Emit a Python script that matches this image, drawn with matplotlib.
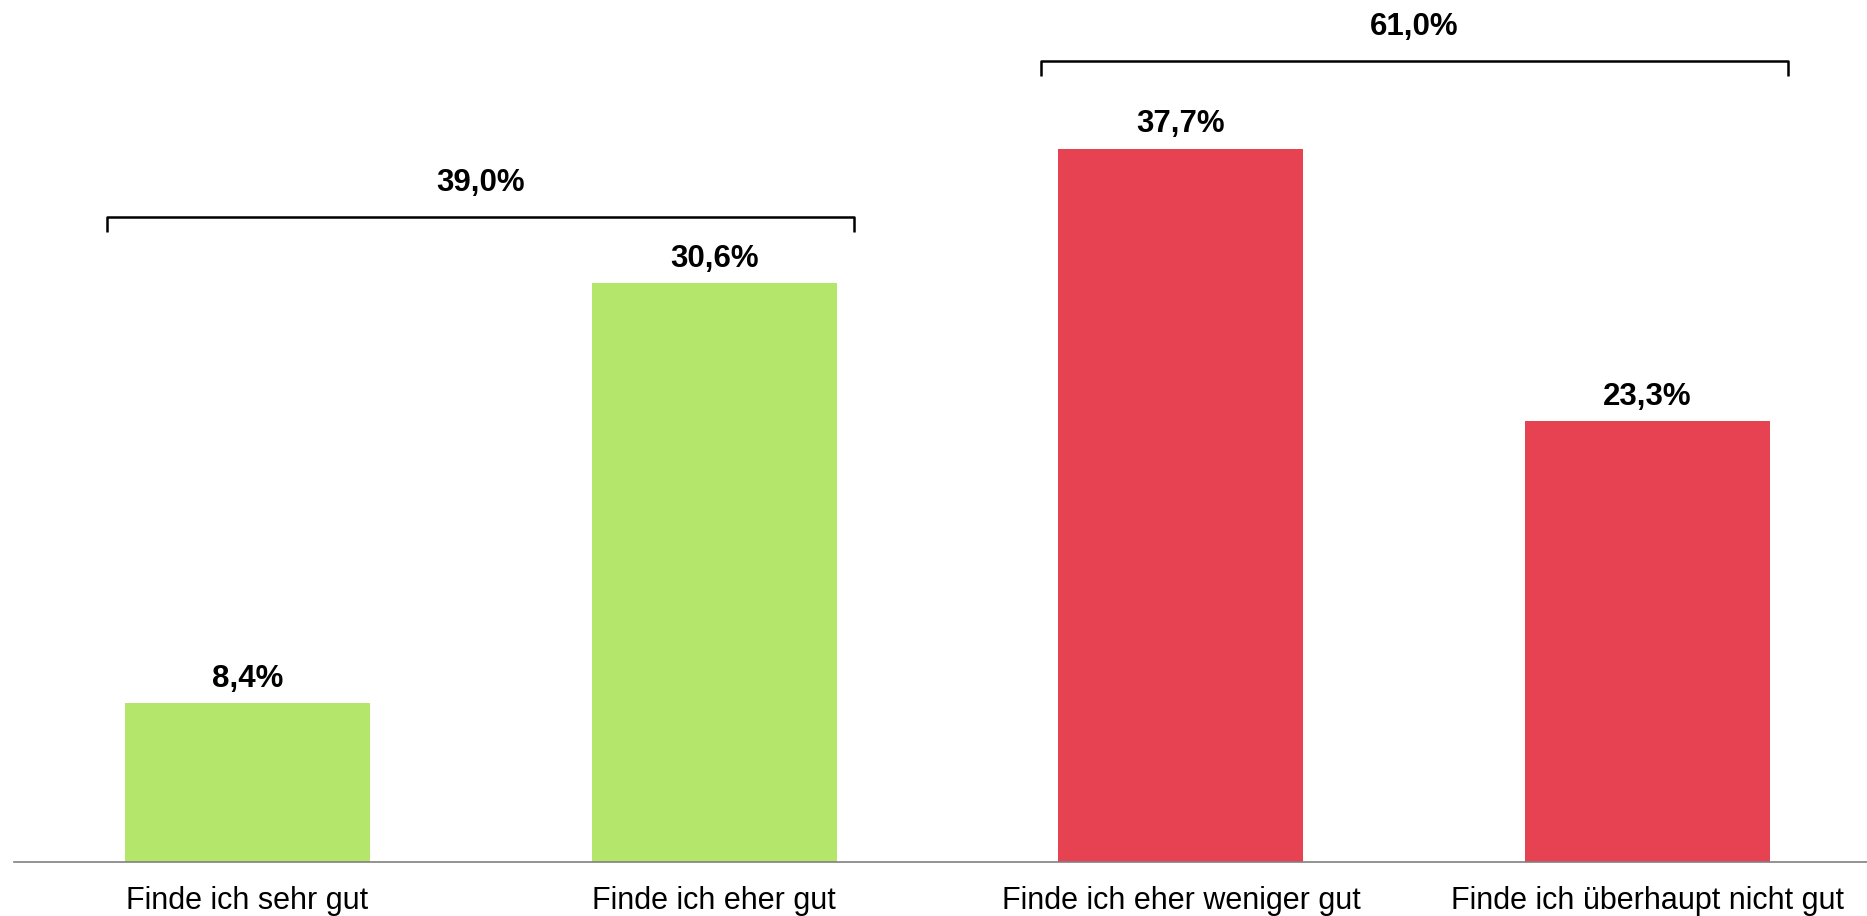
import matplotlib
matplotlib.use("Agg")
import matplotlib.pyplot as plt

# data
categories = ["Finde ich sehr gut", "Finde ich eher gut",
              "Finde ich eher weniger gut", "Finde ich überhaupt nicht gut"]
values = [8.4, 30.6, 37.7, 23.3]
bar_colors = ["#B3E66A", "#B3E66A", "#E64252", "#E64252"]

# grouped totals shown above the brackets: (first bar, last bar, total, bracket level)
group_first = [0, 2]
group_last = [1, 3]
group_totals = [39.0, 61.0]
group_levels = [34.1, 42.35]

plt.rcParams["font.family"] = ["Liberation Sans", "DejaVu Sans"]

fig = plt.figure(figsize=(18.67, 9.16), dpi=100)
ax = fig.add_axes([0.0075, 0.059, 0.9925, 0.941])

x = range(len(categories))
ax.bar(x, values, width=0.525, color=bar_colors, zorder=2)

for i, v in enumerate(values):
    ax.text(i, v + 1.28, f"{v:.1f}".replace(".", ",") + "%",
            ha="center", va="center", fontsize=22.5, fontweight="bold")

for a, b, tot, lev in zip(group_first, group_last, group_totals, group_levels):
    x0, x1 = a - 0.3, b + 0.3
    ax.plot([x0, x0, x1, x1], [lev - 0.8, lev, lev, lev - 0.8],
            color="black", lw=1.8, solid_joinstyle="round",
            solid_capstyle="butt", clip_on=False)
    ax.text((x0 + x1) / 2, lev + 1.8, f"{tot:.1f}".replace(".", ",") + "%",
            ha="center", va="center", fontsize=22.5, fontweight="bold")

ax.set_xlim(-0.5, 3.47)
ax.set_ylim(0, 45.56)
ax.set_xticks(list(x))
ax.set_xticklabels(categories, fontsize=22)
ax.tick_params(axis="x", length=0, pad=17)
ax.set_yticks([])
for side in ["top", "right", "left"]:
    ax.spines[side].set_visible(False)
ax.spines["bottom"].set_color("#808080")
ax.spines["bottom"].set_linewidth(1.2)

fig.savefig("out.png", dpi=100, facecolor="white")
